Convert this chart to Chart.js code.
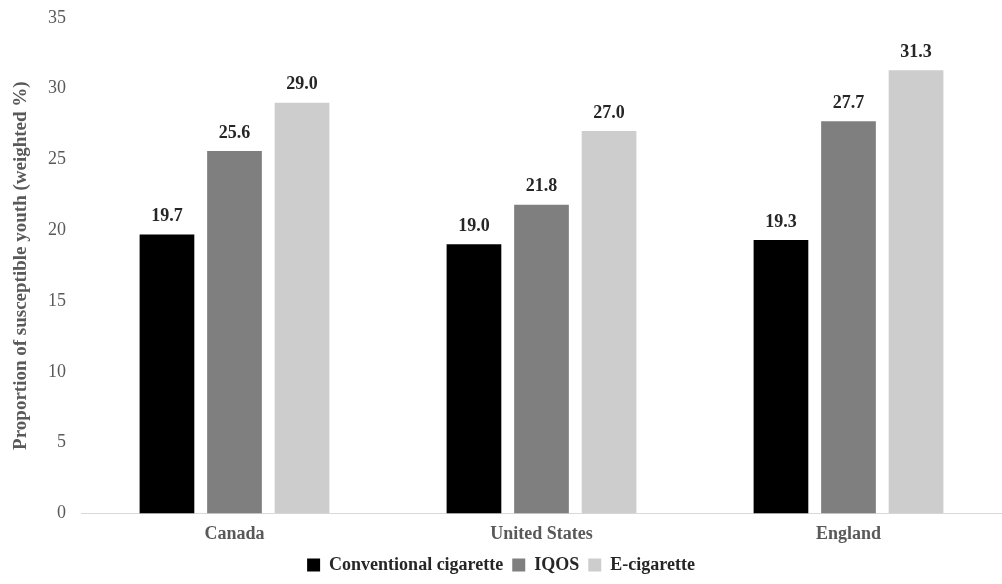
<!DOCTYPE html>
<html>
<head>
<meta charset="utf-8">
<script src="https://cdn.jsdelivr.net/npm/chart.js@4/dist/chart.umd.min.js"></script>
<style>
  html, body { margin: 0; padding: 0; background: #fff; }
  #wrap { width: 1002px; height: 584px; }
</style>
</head>
<body>
<div id="wrap"><canvas id="chart"></canvas></div>
<script>
  // dane
  const countries = ["Canada", "United States", "England"];
  const conventional = [19.7, 19.0, 19.3];
  const iqos = [25.6, 21.8, 27.7];
  const ecig = [29.0, 27.0, 31.3];
  const yTicks = [0, 5, 10, 15, 20, 25, 30, 35];

  const SERIF = "'Liberation Serif', 'DejaVu Serif', serif";

  // etykiety wartości nad słupkami
  const valueLabels = {
    id: "valueLabels",
    afterDatasetsDraw(chart) {
      const ctx = chart.ctx;
      ctx.save();
      ctx.font = "bold 18px " + SERIF;
      ctx.fillStyle = "#262626";
      ctx.textAlign = "center";
      ctx.textBaseline = "middle";
      chart.data.datasets.forEach((ds, i) => {
        const meta = chart.getDatasetMeta(i);
        meta.data.forEach((bar, j) => {
          ctx.fillText(ds.data[j].toFixed(1), bar.x, bar.y - 18);
        });
      });
      ctx.restore();
    },
  };

  new Chart(document.getElementById("chart"), {
    type: "bar",
    data: {
      labels: countries,
      datasets: [
        { label: "Conventional cigarette", data: conventional, backgroundColor: "#000000" },
        { label: "IQOS", data: iqos, backgroundColor: "#7f7f7f" },
        { label: "E-cigarette", data: ecig, backgroundColor: "#cdcdcd" },
      ],
    },
    options: {
      responsive: true,
      maintainAspectRatio: false,
      animation: false,
      layout: { padding: { top: 12, right: 0, left: 0, bottom: 0 } },
      datasets: {
        bar: { categoryPercentage: 0.66, barPercentage: 0.81 },
      },
      plugins: {
        legend: {
          position: "bottom",
          labels: {
            font: { family: SERIF, size: 18, weight: "bold" },
            color: "#262626",
            boxWidth: 13,
            boxHeight: 13,
            padding: 9,
          },
        },
        tooltip: { enabled: false },
      },
      scales: {
        x: {
          grid: { display: false },
          border: { display: true, color: "#d9d9d9", width: 1 },
          ticks: {
            font: { family: SERIF, size: 18, weight: "bold" },
            color: "#595959",
            padding: 2,
          },
        },
        y: {
          min: 0,
          max: 35,
          afterBuildTicks: (scale) => {
            scale.ticks = yTicks.map((v) => ({ value: v }));
          },
          afterFit: (scale) => {
            scale.width = 81;
          },
          grid: { display: false },
          border: { display: false },
          ticks: {
            font: { family: SERIF, size: 18 },
            color: "#595959",
            padding: 7,
          },
          title: {
            display: true,
            text: "Proportion of susceptible youth (weighted %)",
            font: { family: SERIF, size: 19, weight: "bold" },
            color: "#595959",
            padding: { top: 10, bottom: 0 },
          },
        },
      },
    },
    plugins: [valueLabels],
  });
</script>
</body>
</html>
